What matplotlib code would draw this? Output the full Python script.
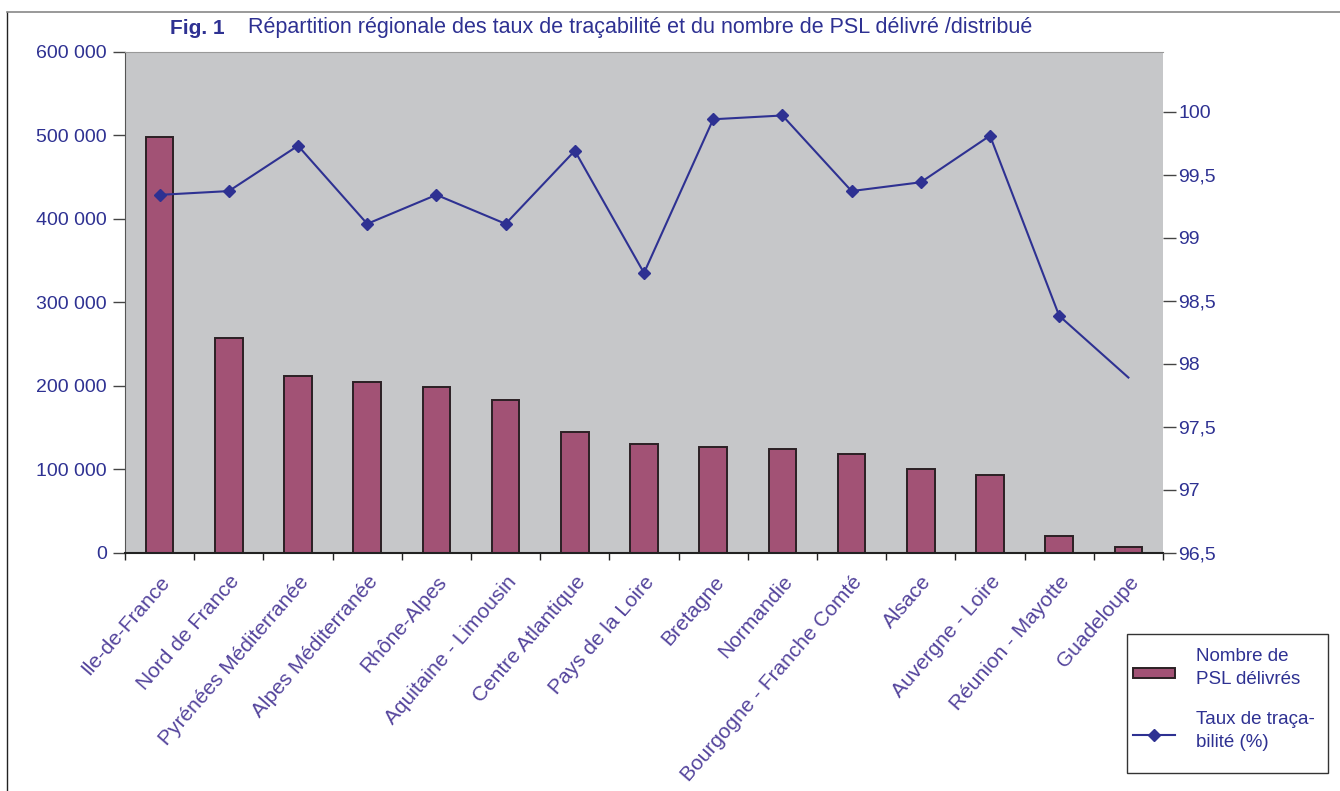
import matplotlib
matplotlib.use("Agg")
import matplotlib.pyplot as plt
from matplotlib.lines import Line2D
from matplotlib.patches import Rectangle
import numpy as np

plt.rcParams["font.family"] = ["Liberation Sans", "DejaVu Sans"]

# ---- data ------------------------------------------------------------------
regions = [
    "Ile-de-France", "Nord de France", "Pyrénées Méditerranée",
    "Alpes Méditerranée", "Rhône-Alpes", "Aquitaine - Limousin",
    "Centre Atlantique", "Pays de la Loire", "Bretagne", "Normandie",
    "Bourgogne - Franche Comté", "Alsace", "Auvergne - Loire",
    "Réunion - Mayotte", "Guadeloupe",
]
psl_delivered = [498000, 257000, 212000, 205000, 199000, 183000, 144000,
                 130000, 126000, 124000, 118000, 100000, 93000, 20000, 7000]
traceability = [99.34, 99.37, 99.73, 99.11, 99.34, 99.11, 99.69, 98.72,
                99.94, 99.97, 99.37, 99.44, 99.81, 98.38, 97.89]
left_ticks = [0, 100000, 200000, 300000, 400000, 500000, 600000]
right_ticks = [96.5, 97, 97.5, 98, 98.5, 99, 99.5, 100]
legend_labels = ["Nombre de\nPSL délivrés", "Taux de traça-\nbilité (%)"]

BLUE = "#2E3192"
VIOLET = "#54449C"
BAR = "#A25275"
BAR_EDGE = "#2B2024"
BG = "#C6C7C9"
W, H = 1340, 791


def fx(px):
    return px / W


def fy(py):
    return 1 - py / H


fig = plt.figure(figsize=(13.4, 7.91), dpi=100)
ax = fig.add_axes([0.0933, 0.3013, 0.7746, 0.6333])
ax.set_facecolor(BG)

x = np.arange(len(regions))
ax.bar(x, psl_delivered, width=0.4, color=BAR, edgecolor=BAR_EDGE,
       linewidth=1.4, zorder=2)
ax.set_xlim(-0.5, len(regions) - 0.5)
ax.set_ylim(0, 600000)
ax.set_yticks(left_ticks)
ax.set_yticklabels([f"{v:,}".replace(",", " ") for v in left_ticks],
                   fontsize=14, color=BLUE)
ax.tick_params(axis="y", length=9, width=1, color="#444", pad=4)
ax.yaxis.get_major_ticks()[-1].tick1line.set_visible(False)

ax.set_xticks(x)
ax.set_xticklabels(regions, rotation=49, ha="right", rotation_mode="anchor",
                   fontsize=15, color=VIOLET)
ax.tick_params(axis="x", which="major", length=0, pad=14)
ax.set_xticks(np.arange(len(regions) + 1) - 0.5, minor=True)
ax.tick_params(axis="x", which="minor", length=5, width=1, color="#222",
               direction="out")

ax.spines["left"].set_color("#555")
ax.spines["top"].set_color("#999")
ax.spines["right"].set_visible(False)
ax.spines["bottom"].set_color("#222")
ax.spines["bottom"].set_linewidth(1.5)

ax2 = ax.twinx()
ax2.plot(x, traceability, color=BLUE, linewidth=1.5, marker="D",
         markersize=6, markevery=list(range(len(regions) - 1)), zorder=3)
ax2.set_ylim(96.5, 100.476)
ax2.set_yticks(right_ticks)
ax2.set_yticklabels([f"{v:g}".replace(".", ",") for v in right_ticks],
                    fontsize=14, color=BLUE)
ax2.tick_params(axis="y", length=9, width=1, color="#444", pad=2)
for s in ["left", "top", "right", "bottom"]:
    ax2.spines[s].set_visible(False)

# ---- title -----------------------------------------------------------------
fig.text(fx(170), fy(28), "Fig. 1", fontsize=15, fontweight="bold",
         color=BLUE, va="center", ha="left")
fig.text(fx(248), fy(28),
         "Répartition régionale des taux de traçabilité et du nombre de PSL délivré /distribué",
         fontsize=15.5, color=BLUE, va="center", ha="left")

# ---- frame lines around the figure -----------------------------------------
fig.add_artist(Line2D([fx(7), fx(7)], [0, fy(12)],
                      transform=fig.transFigure, color="#222", linewidth=1))
fig.add_artist(Line2D([fx(7), 1], [fy(12), fy(12)],
                      transform=fig.transFigure, color="#888", linewidth=1.2))

# ---- legend (drawn by hand to match the boxed layout) ----------------------
fig.add_artist(Rectangle((fx(1127), fy(773)), fx(1328) - fx(1127),
                         fy(634) - fy(773), transform=fig.transFigure,
                         facecolor="white", edgecolor="#333", linewidth=1.0))
fig.add_artist(Rectangle((fx(1133), fy(678)), fx(1175) - fx(1133),
                         fy(668) - fy(678), transform=fig.transFigure,
                         facecolor=BAR, edgecolor=BAR_EDGE, linewidth=1.4))
fig.add_artist(Line2D([fx(1133), fx(1175)], [fy(735), fy(735)],
                      transform=fig.transFigure, color=BLUE, linewidth=1.5))
fig.add_artist(Line2D([fx(1154)], [fy(735)], transform=fig.transFigure,
                      color=BLUE, marker="D", markersize=6, linestyle="none"))
for label, cy in zip(legend_labels, [668, 731]):
    fig.text(fx(1196), fy(cy), label, fontsize=13.5, color=BLUE,
             va="center", ha="left", linespacing=1.45)

fig.savefig("out.png", dpi=100)
